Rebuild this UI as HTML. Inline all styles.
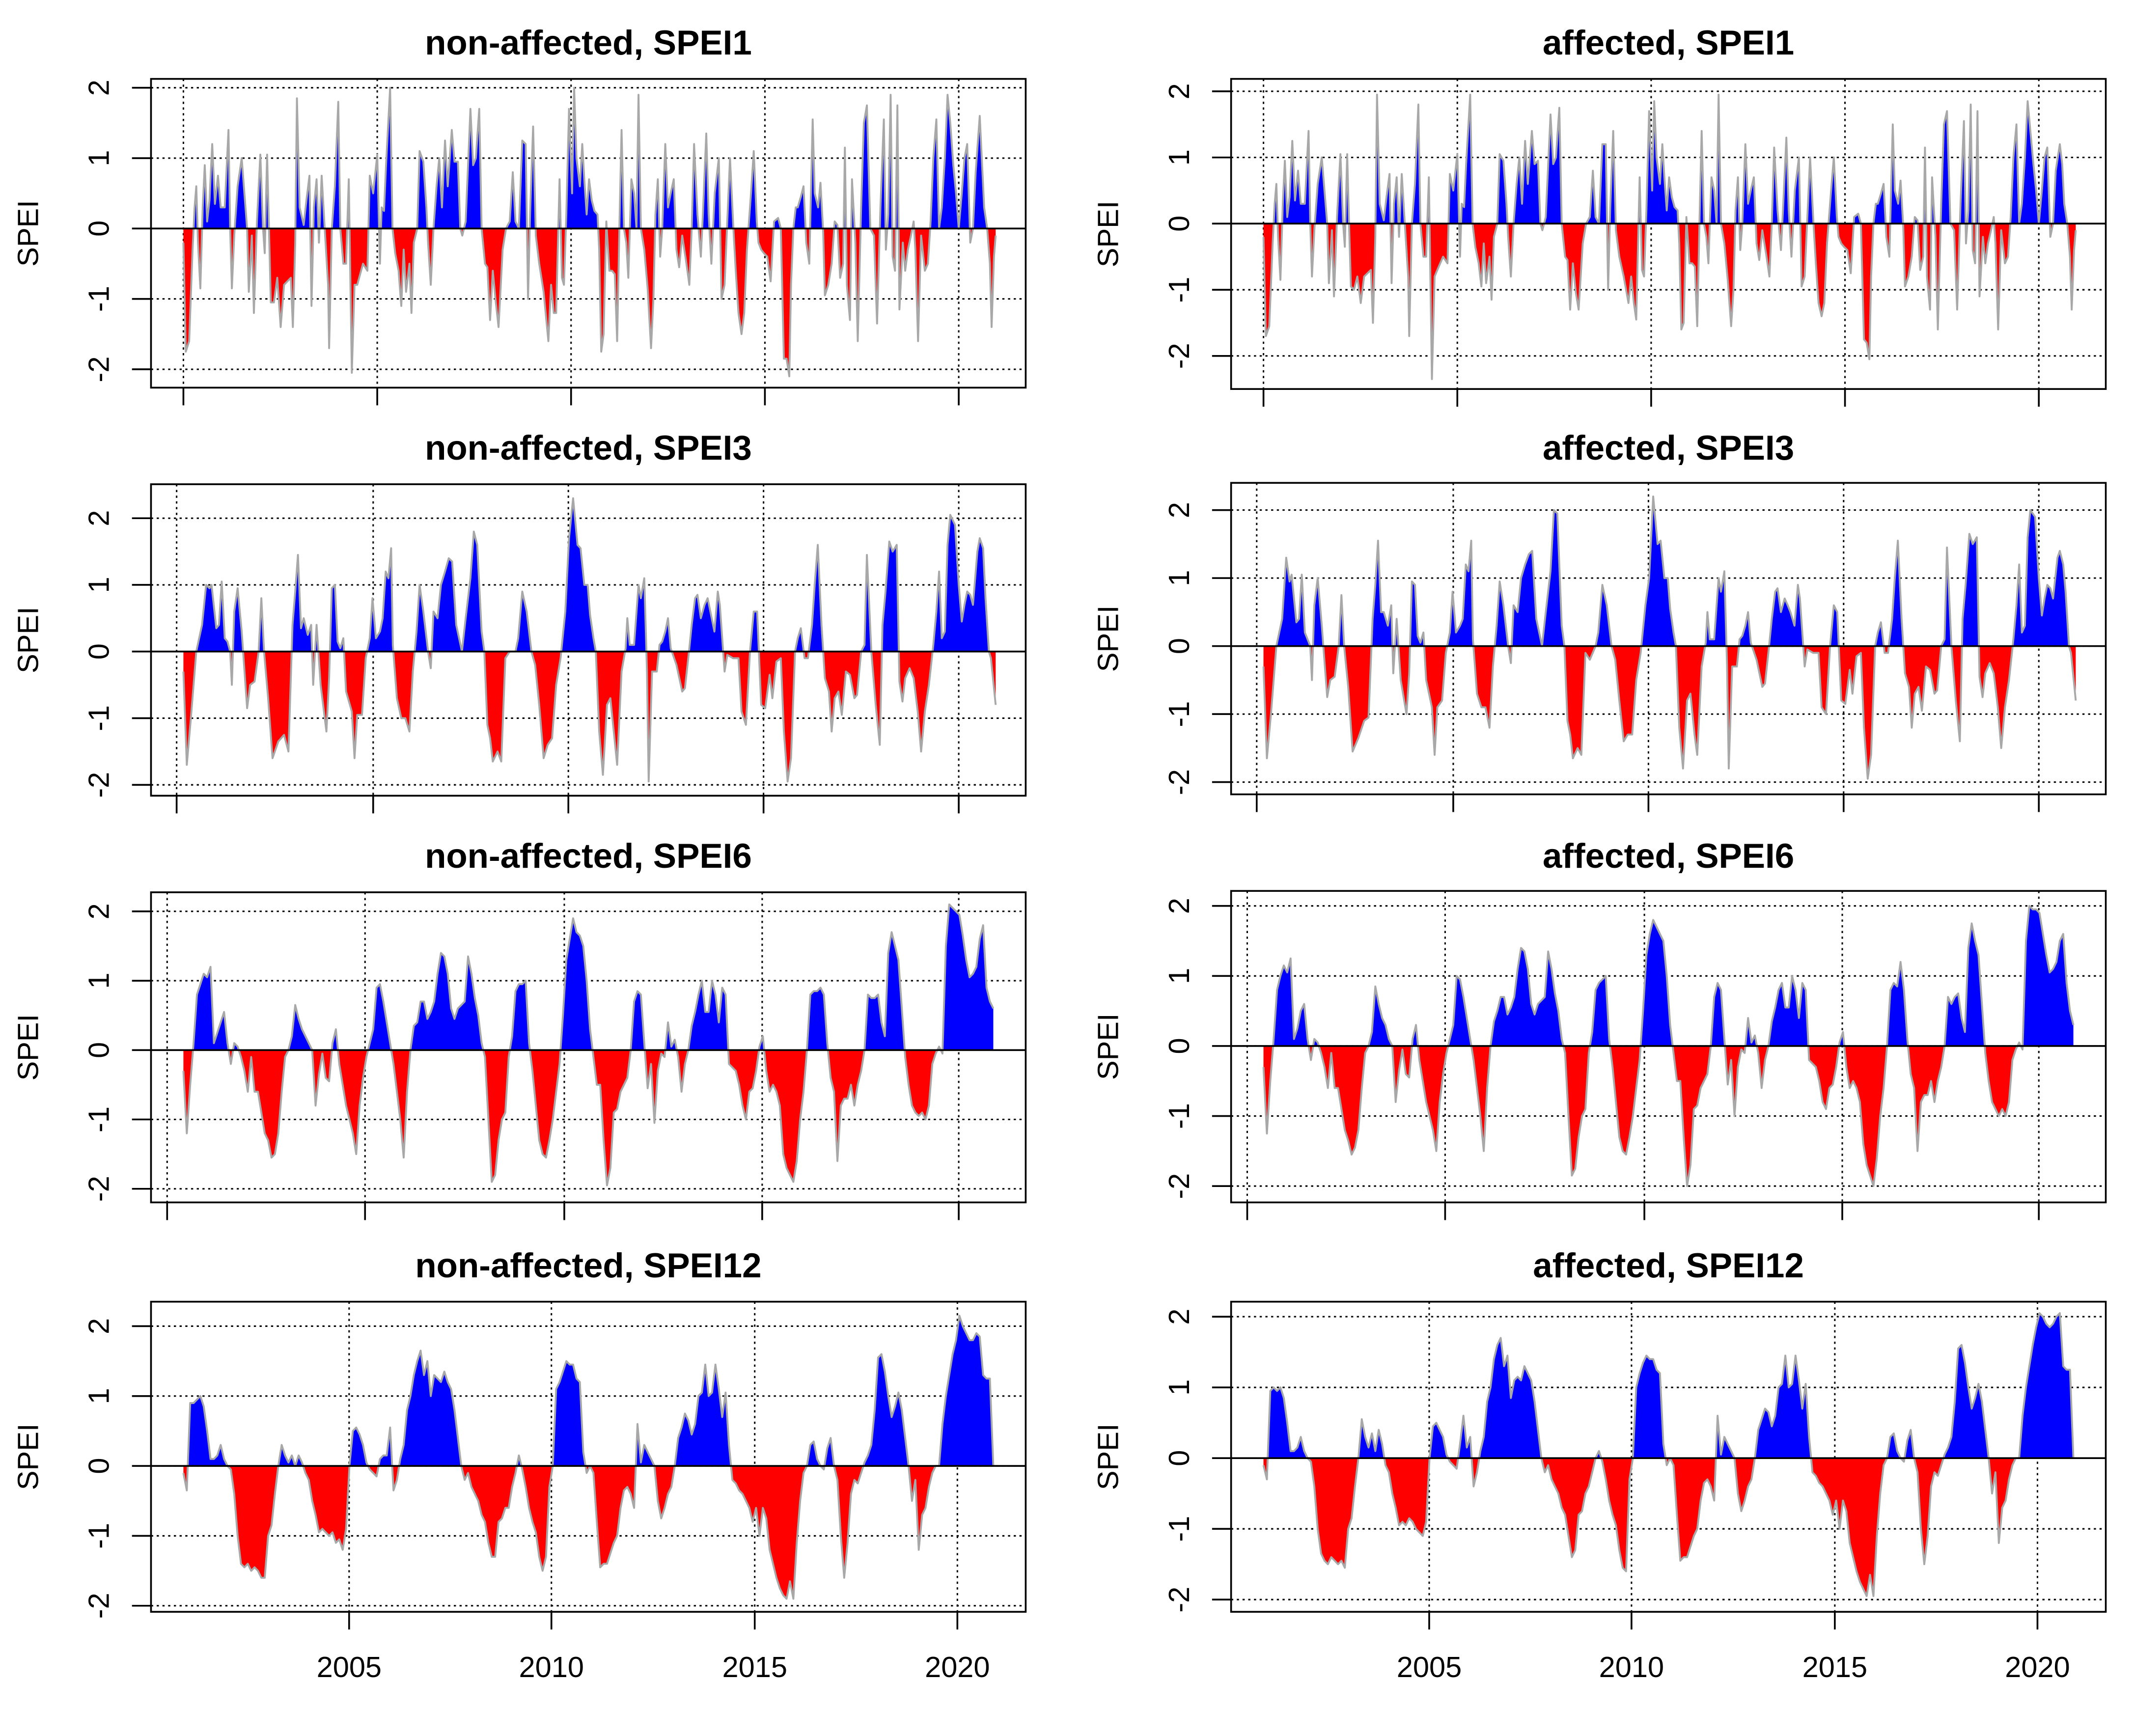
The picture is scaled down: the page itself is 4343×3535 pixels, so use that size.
<!DOCTYPE html>
<html>
<head>
<meta charset="utf-8">
<style>
html,body{margin:0;padding:0;background:#fff;}
svg{display:block;}
text{font-family:"Liberation Sans",Arial,sans-serif;fill:#000;}
</style>
</head>
<body>
<svg id="chart" xmlns="http://www.w3.org/2000/svg" width="4343" height="3535" viewBox="0 0 1568 1276.3">
<rect x="0" y="0" width="1568" height="1276.3" fill="#fff"/>
</svg>
<script>
// ---------- DATA ----------
const yTickValues = [-2, -1, 0, 1, 2];
const yTickLabels = ["-2", "-1", "0", "1", "2"];
const ticksRow1 = [0, 57.2, 114.4, 171.6, 228.8];
const ticksRow2 = [-2, 56, 113.6, 171.2, 228.8];
const ticksRow3 = [-4.8, 53.6, 112.4, 170.8, 228.8];
const ticksRow4 = [48.9, 108.6, 168.6, 228.4];
const yearLabels = ["2005", "2010", "2015", "2020"];

const spei1NonPts = [[0,-0.2],[0.7,-1.75],[1.7,-1.6],[2.7,-0.3],[3.3,0.3],[3.8,0.6],[4.3,-0.2],[5,-0.85],[5.7,0.3],[6.3,0.9],[7,0.1],[7.7,0.4],[8.5,1.2],[9.3,0.35],[10.2,0.75],[11,0.3],[12.2,0.3],[13.3,1.4],[13.8,0],[14.3,-0.85],[15,-0.1],[16,0.6],[17.2,1.0],[18,0.5],[18.8,0],[19.3,-0.9],[20.2,-0.1],[20.8,-1.2],[21.7,0.1],[22.7,1.05],[23.5,0],[24,-0.35],[24.7,1.05],[25.3,-0.1],[25.8,-1.05],[26.7,-1.05],[27.7,-0.7],[28.7,-1.4],[29.7,-0.8],[30.7,-0.75],[31.7,-0.7],[32.3,-1.4],[33,-0.2],[33.5,1.85],[34.3,0.3],[35.5,0.05],[36.3,0.4],[37.2,0.75],[37.8,-1.1],[38.5,0.3],[39.3,0.7],[40,-0.2],[40.8,0.75],[41.7,0],[42.7,-0.8],[43,-1.7],[43.8,0],[44.7,0.6],[45.7,1.8],[46.3,0],[47.2,-0.5],[48,-0.5],[48.8,0.7],[49.7,-2.05],[50.5,-0.8],[51.3,-0.8],[53,-0.5],[54.3,-0.6],[55,0.75],[56,0.5],[57.2,1.05],[58,-0.5],[58.5,0.3],[59.2,0.25],[59.8,0.9],[61,2.0],[61.7,0],[62.5,-0.35],[63.5,-0.6],[64.3,-1.1],[65,-0.3],[65.7,-0.9],[66.7,-0.5],[67.3,-1.2],[68,-0.2],[69,0],[69.7,1.1],[70.8,0.95],[71.7,0.3],[72.2,-0.2],[73,-0.8],[73.8,0],[74.7,0.6],[75.5,1.0],[76.3,0.3],[77.2,1.25],[78,0.6],[79.2,1.4],[80,0.95],[81,0.95],[81.7,0],[82.3,-0.1],[83.3,0.1],[84.7,1.7],[85.5,0.9],[86.3,1.0],[87.3,1.7],[88,0],[89,-0.5],[89.7,-0.55],[90.5,-1.3],[91.3,-0.6],[92.2,-1.05],[93,-1.4],[94.2,-0.3],[95.2,0],[96.3,0.1],[97.2,0.8],[98,0.1],[99,0],[100,1.25],[101,1.2],[101.7,-1.0],[102.3,0.2],[103.2,1.45],[104,-0.1],[105,-0.5],[106.3,-0.9],[107.7,-1.6],[108.5,-0.8],[109.3,-1.2],[110,-1.2],[111,0.7],[111.7,-0.7],[112.3,-0.8],[113,0.2],[113.8,1.7],[114.7,0.5],[115.3,2.0],[116,1.0],[117,0.6],[117.7,1.2],[118.3,0.7],[119,0.2],[119.7,0.7],[120.5,0.4],[121.3,0.25],[122.2,0.2],[122.7,-0.3],[123.3,-1.75],[124,-1.5],[124.8,0.1],[125.7,-0.6],[126.5,-0.6],[127.3,-0.65],[128,-1.6],[128.7,0.1],[129.3,1.4],[130,0],[130.7,-0.2],[131.3,-0.7],[132.2,0.7],[133,0.5],[133.7,0],[134.3,1.9],[135,0],[136,-0.3],[137,-0.85],[138,-1.7],[138.7,-1.0],[139.3,0.2],[140,0.7],[140.7,-0.4],[141.3,0],[142.2,1.2],[143,0.3],[143.8,0.5],[144.7,0.7],[145.5,-0.3],[146.3,-0.55],[147.2,-0.1],[148.3,-0.45],[149.3,-0.8],[150,0],[150.7,1.2],[151.7,0.2],[152.7,-0.4],[153.3,0.2],[154.3,1.35],[155,0.2],[155.8,-0.5],[156.8,0.5],[158,1.0],[158.8,-1.0],[159.7,-0.8],[160.5,0.1],[161.3,1.0],[162.3,0],[163,-0.6],[163.8,-1.2],[164.7,-1.5],[165.5,-1.2],[166.3,-0.3],[167.5,0.5],[168.3,1.1],[169.2,0.1],[169.7,-0.2],[170.5,-0.3],[171.3,-0.35],[172.3,-0.4],[173.3,-0.75],[174.3,0.1],[175.5,0.15],[176.3,0],[177.2,-1.85],[178,-1.85],[178.8,-2.1],[179.3,-0.8],[180,0],[180.7,0.3],[181.3,0.3],[182.2,0.45],[183,0.6],[183.8,-0.2],[184.7,-0.5],[185.7,1.55],[186.3,0.5],[187.3,0.3],[188,0.65],[188.8,-0.05],[189.3,-0.95],[190.3,-0.8],[191.3,-0.5],[192.2,0.1],[193,0.05],[193.8,-0.7],[194.7,-0.5],[195.2,1.15],[195.8,-0.8],[196.7,-1.3],[197.3,0.7],[198.3,-0.2],[199,-1.6],[200,0.3],[200.8,1.5],[201.7,1.75],[202.7,0],[203.8,-0.1],[204.7,-1.35],[205.7,0.3],[206.7,1.55],[207.3,-0.3],[208,0.2],[208.7,1.9],[209.3,-0.4],[210,-0.6],[210.7,1.75],[211.3,-1.15],[212.3,-0.2],[213,-0.6],[213.8,-0.3],[214.7,-0.1],[215.5,0.1],[216,-0.3],[216.8,-1.6],[217.7,-0.1],[218.8,-0.6],[219.7,-0.5],[220.5,0.1],[221.3,1.0],[222.2,1.55],[223,0],[223.8,0.3],[224.7,1.0],[225.5,1.9],[226.3,1.5],[227.2,0.9],[228,0.5],[228.8,0],[229.7,0.5],[230.5,1.0],[231.3,1.2],[232.2,-0.2],[233,0],[233.8,0.8],[235,1.6],[235.7,0.9],[236.3,0.3],[237.2,0],[238,-0.5],[238.5,-1.4],[239.2,-0.4],[239.7,-0.1]];

const spei1AffPts = [[0,-0.2],[0.7,-1.7],[1.7,-1.55],[2.7,-0.3],[3.3,0.3],[3.8,0.6],[4.3,-0.2],[5,-0.85],[5.7,0.3],[6.3,0.95],[7,0.1],[7.7,0.4],[8.5,1.25],[9.3,0.35],[10.2,0.8],[11,0.3],[12.2,0.3],[13.3,1.4],[13.8,0],[14.3,-0.8],[15,-0.1],[16,0.6],[17.2,1.0],[18,0.5],[18.8,0],[19.3,-0.9],[20.2,-0.1],[20.8,-1.1],[21.7,0.1],[22.7,1.05],[23.5,0],[24,-0.35],[24.7,1.05],[25.3,-0.1],[25.8,-0.95],[26.7,-1.0],[27.7,-0.8],[28.7,-1.2],[29.7,-0.8],[30.7,-0.75],[31.7,-0.7],[32.3,-1.5],[33,-0.2],[33.5,1.95],[34.3,0.3],[35.5,0.05],[36.3,0.4],[37.2,0.75],[37.8,-0.9],[38.5,0.3],[39.3,0.7],[40,-0.2],[40.8,0.75],[41.7,0],[42.7,-0.8],[43,-1.7],[43.8,0],[44.7,0.6],[45.7,1.8],[46.3,0],[47.2,-0.5],[48,-0.5],[48.8,0.7],[49.7,-2.35],[50.5,-0.8],[51.3,-0.7],[53,-0.5],[54.3,-0.6],[55,0.75],[56,0.5],[57.2,1.05],[58,-0.5],[58.5,0.3],[59.2,0.25],[59.8,0.9],[61,1.95],[61.7,0],[62.5,-0.35],[63.5,-0.6],[64.3,-0.95],[65,-0.3],[65.7,-0.9],[66.7,-0.5],[67.3,-1.15],[68,-0.2],[69,0],[69.7,1.05],[70.8,0.95],[71.7,0.3],[72.2,-0.2],[73,-0.8],[73.8,0],[74.7,0.6],[75.5,1.0],[76.3,0.3],[77.2,1.25],[78,0.6],[79.2,1.4],[80,0.9],[81,0.95],[81.7,0],[82.3,-0.1],[83.3,0.1],[84.7,1.65],[85.5,0.9],[86.3,1.0],[87.3,1.75],[88,0],[89,-0.5],[89.7,-0.55],[90.5,-1.3],[91.3,-0.6],[92.2,-1.05],[93,-1.3],[94.2,-0.3],[95.2,0],[96.3,0.1],[97.2,0.8],[98,0.1],[99,0],[100,1.2],[101,1.2],[101.7,-1.0],[102.3,0.2],[103.2,1.4],[104,-0.1],[105,-0.5],[106.3,-0.8],[107.7,-1.2],[108.5,-0.8],[109.3,-1.2],[110,-1.45],[111,0.7],[111.7,-0.7],[112.3,-0.8],[113,0.2],[113.8,1.7],[114.7,0.5],[115.3,1.85],[116,1.0],[117,0.6],[117.7,1.2],[118.3,0.7],[119,0.2],[119.7,0.7],[120.5,0.4],[121.3,0.25],[122.2,0.2],[122.7,-0.3],[123.3,-1.6],[124,-1.5],[124.8,0.1],[125.7,-0.6],[126.5,-0.6],[127.3,-0.65],[128,-1.55],[128.7,0.1],[129.3,1.4],[130,0],[130.7,-0.2],[131.3,-0.6],[132.2,0.7],[133,0.5],[133.7,0],[134.3,1.95],[135,0],[136,-0.3],[137,-0.85],[138,-1.55],[138.7,-1.0],[139.3,0.2],[140,0.7],[140.7,-0.4],[141.3,0],[142.2,1.2],[143,0.3],[143.8,0.5],[144.7,0.7],[145.5,-0.3],[146.3,-0.55],[147.2,-0.1],[148.3,-0.45],[149.3,-0.8],[150,0],[150.7,1.15],[151.7,0.2],[152.7,-0.4],[153.3,0.2],[154.3,1.3],[155,0.2],[155.8,-0.5],[156.8,0.5],[158,1.0],[158.8,-0.95],[159.7,-0.8],[160.5,0.1],[161.3,1.0],[162.3,0],[163,-0.6],[163.8,-1.2],[164.7,-1.4],[165.5,-1.2],[166.3,-0.3],[167.5,0.5],[168.3,1.0],[169.2,0.1],[169.7,-0.2],[170.5,-0.3],[171.3,-0.35],[172.3,-0.4],[173.3,-0.75],[174.3,0.1],[175.5,0.15],[176.3,0],[177.2,-1.75],[178,-1.8],[178.8,-2.05],[179.3,-0.8],[180,0],[180.7,0.3],[181.3,0.3],[182.2,0.45],[183,0.6],[183.8,-0.2],[184.7,-0.5],[185.7,1.5],[186.3,0.5],[187.3,0.3],[188,0.65],[188.8,-0.05],[189.3,-0.95],[190.3,-0.8],[191.3,-0.5],[192.2,0.1],[193,0.05],[193.8,-0.7],[194.7,-0.5],[195.2,1.15],[195.8,-0.8],[196.7,-1.3],[197.3,0.7],[198.3,-0.2],[199,-1.6],[200,0.3],[200.8,1.5],[201.7,1.7],[202.7,0],[203.8,-0.1],[204.7,-1.3],[205.7,0.3],[206.7,1.55],[207.3,-0.3],[208,0.2],[208.7,1.8],[209.3,-0.4],[210,-0.6],[210.7,1.7],[211.3,-1.1],[212.3,-0.2],[213,-0.6],[213.8,-0.3],[214.7,-0.1],[215.5,0.1],[216,-0.3],[216.8,-1.6],[217.7,-0.1],[218.8,-0.6],[219.7,-0.5],[220.5,0.1],[221.3,1.0],[222.2,1.5],[223,0],[223.8,0.3],[224.7,1.0],[225.5,1.85],[226.3,1.4],[227.2,0.9],[228,0.5],[228.8,0],[229.7,0.5],[230.5,1.0],[231.3,1.15],[232.2,-0.2],[233,0],[233.8,0.8],[235,1.2],[235.7,0.9],[236.3,0.3],[237.2,0],[238,-0.5],[238.5,-1.3],[239.2,-0.4],[239.7,-0.1]];

const spei3NonPts = [[0,-0.3],[1,-1.7],[2.2,-1.0],[3.8,0],[5.5,0.4],[6.7,1.0],[7.7,0.95],[8.3,1.0],[9.7,0.35],[10.5,0.4],[11.3,1.05],[12.2,0.2],[13,0.15],[13.8,0],[14.3,-0.5],[15,0.6],[16,0.95],[17.2,0.3],[18.8,-0.85],[19.7,-0.5],[21,-0.45],[22.2,0],[23,0.8],[23.8,0],[25,-0.7],[26.3,-1.6],[28,-1.35],[29.7,-1.25],[31,-1.5],[32.2,0.4],[33,0.9],[33.8,1.45],[34.7,0.35],[35.5,0.5],[36.7,0.25],[37.7,0.4],[38.3,-0.5],[39.3,0.4],[40.5,-0.5],[42.2,-1.2],[43,-0.4],[43.8,0.95],[44.7,1.0],[45.5,0.15],[46.3,0.05],[47.2,0.2],[48,-0.6],[49.7,-0.9],[50.5,-1.6],[51.3,-0.95],[52.7,-0.95],[53.8,-0.1],[55,0.2],[55.8,0.8],[56.8,0.2],[58,0.3],[58.8,0.5],[59.7,1.2],[60.5,1.1],[61.3,1.55],[61.8,0.1],[63,-0.7],[64.3,-1.0],[65.5,-1.0],[66.7,-1.2],[67.7,-0.3],[68.8,0.3],[69.7,1.0],[70.8,0.6],[72.2,0],[73,-0.25],[73.8,0.6],[75,0.5],[76,1.0],[77.2,1.2],[78.3,1.4],[79.3,1.35],[80.5,0.4],[82.2,0],[83.3,0.5],[84.7,1.1],[85.7,1.8],[86.7,1.6],[88,0.3],[88.8,0],[89.7,-1.1],[90.5,-1.3],[91.3,-1.65],[92.7,-1.5],[93.8,-1.65],[95,-0.1],[96.3,0],[98,0],[98.8,0.2],[100,0.9],[101.3,0.6],[102.7,0],[103.8,-0.2],[105,-0.8],[106.3,-1.6],[107.5,-1.4],[108.8,-1.3],[110,-0.5],[111.3,-0.1],[112.7,0.6],[113.8,1.7],[115,2.3],[116.3,1.6],[117.2,1.55],[118.3,1.0],[119.3,1.0],[120,0.55],[121,0.2],[121.7,0],[122.7,-1.2],[123.8,-1.85],[125,-0.8],[126,-0.7],[127.2,-1.3],[128,-1.7],[129.3,-0.3],[130.5,0.05],[131,0.5],[131.7,0.1],[133,0.1],[134.3,1.0],[135,0.8],[136,1.1],[136.8,-0.3],[137.3,-1.95],[138.3,-0.3],[139.7,-0.3],[140.5,0.1],[141.3,0.15],[142.2,0.3],[143,0.5],[143.8,0.05],[145.5,-0.2],[147.2,-0.6],[148,-0.55],[149.2,0],[150,0.4],[151,0.8],[151.7,0.85],[152.7,0.5],[153.8,0.7],[154.7,0.8],[155.5,0.6],[156.7,0.3],[157.7,0.9],[158.3,0.7],[159.7,-0.3],[160.5,-0.05],[162.2,-0.1],[163.8,-0.1],[164.7,-0.9],[166,-1.1],[167.2,0],[168.3,0.6],[169.3,0.6],[170.5,-0.8],[171.7,-0.85],[173,-0.35],[173.8,-0.7],[175,-0.15],[176.3,-0.1],[177.2,-1.2],[178.3,-1.95],[179.3,-1.6],[180.5,0],[181.3,0.2],[182.2,0.35],[183.3,-0.1],[184.3,-0.1],[185.5,0.4],[186.3,1.0],[187.2,1.6],[188.3,0.4],[189.3,-0.4],[190.5,-0.6],[191.3,-1.2],[192.2,-0.7],[193.3,-0.6],[194.3,-0.95],[195.5,-0.3],[196.7,-0.35],[198,-0.7],[198.8,-0.65],[200,0],[201,0.1],[201.7,1.45],[203,0],[204.3,-0.8],[205.5,-1.4],[206.3,0.4],[207.2,0.9],[208.3,1.65],[209.3,1.5],[210.5,1.6],[211.3,-0.45],[212.2,-0.75],[213,-0.4],[214.3,-0.25],[215.5,-0.4],[216.7,-0.9],[217.7,-1.5],[218.8,-0.9],[220,-0.5],[221.3,0.1],[222.2,0.6],[223,1.2],[223.8,0.2],[224.7,0.3],[225.5,1.6],[226.3,2.05],[227.7,1.9],[228.8,1.0],[229.7,0.45],[230.5,0.7],[231.3,0.9],[232.2,0.85],[233,0.7],[234.3,1.5],[235,1.7],[236,1.55],[236.7,0.8],[237.7,0],[238.3,-0.1],[239.7,-0.8]];

const spei3AffPts = [[0,-0.3],[1,-1.65],[2.2,-1.0],[3.8,0],[5.5,0.4],[6.7,1.3],[7.7,0.95],[8.3,1.05],[9.7,0.35],[10.5,0.4],[11.3,1.05],[12.2,0.2],[13,0.1],[13.8,0],[14.3,-0.5],[15,0.6],[16,1.0],[17.2,0.3],[18.8,-0.75],[19.7,-0.5],[21,-0.45],[22.2,0],[23,0.75],[23.8,0],[25,-0.6],[26.3,-1.55],[28,-1.35],[29.7,-1.1],[31,-1.05],[32.2,0.4],[33,0.9],[33.8,1.55],[34.7,0.5],[35.5,0.5],[36.7,0.3],[37.7,0.6],[38.3,-0.4],[39.3,0.4],[40.5,-0.5],[42.2,-1.0],[43,-0.4],[43.8,0.95],[44.7,0.9],[45.5,0.15],[46.3,0.05],[47.2,0.2],[48,-0.5],[49.7,-0.9],[50.5,-1.6],[51.3,-0.9],[52.7,-0.8],[53.8,-0.1],[55,0.2],[55.8,0.8],[56.8,0.2],[58,0.3],[58.8,0.4],[59.7,1.2],[60.5,1.1],[61.3,1.55],[61.8,0.1],[63,-0.7],[64.3,-0.9],[65.5,-0.9],[66.7,-1.2],[67.7,-0.3],[68.8,0.3],[69.7,0.95],[70.8,0.6],[72.2,0],[73,-0.25],[73.8,0.6],[75,0.5],[76,1.0],[77.2,1.2],[78.3,1.35],[79.3,1.4],[80.5,0.4],[82.2,0],[83.3,0.5],[84.7,1.1],[85.7,2.0],[86.7,1.95],[88,0.3],[88.8,0],[89.7,-1.1],[90.5,-1.3],[91.3,-1.65],[92.7,-1.5],[93.8,-1.6],[95,-0.1],[96.3,-0.2],[98,0],[98.8,0.2],[100,0.9],[101.3,0.6],[102.7,0],[103.8,-0.2],[105,-0.8],[106.3,-1.4],[107.5,-1.3],[108.8,-1.3],[110,-0.5],[111.3,-0.1],[112.7,0.6],[113.8,1.0],[115,2.2],[116.3,1.5],[117.2,1.55],[118.3,1.0],[119.3,1.0],[120,0.55],[121,0.2],[121.7,0],[122.7,-1.2],[123.8,-1.8],[125,-0.8],[126,-0.7],[127.2,-1.3],[128,-1.6],[129.3,-0.3],[130.5,0.05],[131,0.5],[131.7,0.1],[133,0.1],[134.3,1.0],[135,0.8],[136,1.1],[136.8,-0.3],[137.3,-1.8],[138.3,-0.3],[139.7,-0.3],[140.5,0.1],[141.3,0.15],[142.2,0.3],[143,0.5],[143.8,0.05],[145.5,-0.2],[147.2,-0.6],[148,-0.55],[149.2,0],[150,0.4],[151,0.8],[151.7,0.85],[152.7,0.5],[153.8,0.7],[154.7,0.6],[155.5,0.5],[156.7,0.3],[157.7,0.9],[158.3,0.7],[159.7,-0.3],[160.5,-0.05],[162.2,-0.1],[163.8,-0.1],[164.7,-0.9],[166,-1.0],[167.2,0],[168.3,0.6],[169.3,0.5],[170.5,-0.8],[171.7,-0.85],[173,-0.35],[173.8,-0.7],[175,-0.15],[176.3,-0.1],[177.2,-1.2],[178.3,-1.95],[179.3,-1.6],[180.5,0],[181.3,0.2],[182.2,0.35],[183.3,-0.1],[184.3,-0.1],[185.5,0.4],[186.3,1.0],[187.2,1.55],[188.3,0.4],[189.3,-0.4],[190.5,-0.6],[191.3,-1.2],[192.2,-0.7],[193.3,-0.6],[194.3,-0.95],[195.5,-0.3],[196.7,-0.35],[198,-0.7],[198.8,-0.65],[200,0],[201,0.1],[201.7,1.45],[203,0],[204.3,-0.8],[205.5,-1.4],[206.3,0.4],[207.2,0.9],[208.3,1.65],[209.3,1.5],[210.5,1.6],[211.3,-0.45],[212.2,-0.75],[213,-0.4],[214.3,-0.25],[215.5,-0.4],[216.7,-0.9],[217.7,-1.5],[218.8,-0.9],[220,-0.5],[221.3,0.1],[222.2,0.6],[223,1.2],[223.8,0.2],[224.7,0.3],[225.5,1.6],[226.3,2.0],[227.7,1.9],[228.8,1.0],[229.7,0.45],[230.5,0.7],[231.3,0.9],[232.2,0.85],[233,0.7],[234.3,1.3],[235,1.4],[236,1.2],[236.7,0.8],[237.7,0],[238.3,-0.1],[239.7,-0.8]];

const spei6Non = [-0.3,-1.2,-0.5,0.1,0.8,0.95,1.1,1.05,1.2,0.1,0.25,0.4,
0.55,0.1,-0.2,0.1,0.05,-0.1,-0.3,-0.6,-0.1,-0.6,-0.6,-0.9,
-1.2,-1.3,-1.55,-1.5,-1.2,-0.6,-0.1,0,0.2,0.65,0.45,0.3,
0.2,0.1,0,-0.8,-0.35,-0.05,-0.4,-0.45,0.1,0.3,-0.2,-0.5,
-0.8,-1.0,-1.2,-1.5,-0.8,-0.4,-0.1,0.1,0.3,0.9,0.95,0.7,
0.4,0.1,-0.2,-0.6,-1.0,-1.55,-0.6,0,0.35,0.4,0.7,0.7,
0.45,0.55,0.7,1.1,1.4,1.35,1.1,0.6,0.45,0.6,0.65,0.7,
1.35,1.1,0.75,0.5,0.1,-0.1,-1.0,-1.9,-1.8,-1.3,-1.0,-0.9,
-0.1,0.2,0.85,0.95,0.95,1.0,0.1,-0.3,-0.8,-1.3,-1.5,-1.55,
-1.3,-1.0,-0.6,-0.2,0.5,1.3,1.6,1.9,1.7,1.65,1.5,1.0,
0.3,-0.1,-0.5,-0.5,-1.3,-1.95,-1.7,-0.9,-0.85,-0.6,-0.5,-0.4,
0,0.7,0.85,0.8,0.1,-0.55,-0.2,-1.05,-0.3,-0.05,-0.1,0.4,
0.05,0.15,-0.1,-0.6,-0.2,0,0.35,0.55,0.8,1.0,0.55,0.55,
1.0,0.8,0.4,0.9,0.8,-0.2,-0.25,-0.3,-0.5,-0.8,-1.0,-0.6,
-0.55,-0.3,0.05,0.2,-0.3,-0.6,-0.5,-0.6,-0.8,-1.5,-1.7,-1.8,
-1.9,-1.6,-1.0,-0.6,0,0.8,0.85,0.85,0.9,0.8,0.1,-0.4,
-0.6,-1.6,-0.8,-0.7,-0.7,-0.5,-0.8,-0.5,-0.3,0,0.8,0.75,
0.75,0.8,0.4,0.2,1.4,1.7,1.5,1.3,0.6,-0.1,-0.5,-0.8,
-0.9,-0.95,-0.9,-1.0,-0.8,-0.2,-0.05,0.05,-0.05,1.5,2.1,2.05,
2.0,1.95,1.65,1.3,1.05,1.1,1.2,1.6,1.8,0.9,0.7,0.6];

const spei6Aff = [-0.3,-1.25,-0.5,0.1,0.8,1.0,1.15,1.05,1.25,0.1,0.25,0.5,
0.6,0.1,-0.2,0.1,0.05,-0.1,-0.3,-0.6,-0.1,-0.6,-0.6,-0.9,
-1.2,-1.35,-1.55,-1.45,-1.2,-0.6,-0.1,0,0.2,0.85,0.6,0.4,
0.3,0.1,0,-0.8,-0.35,-0.05,-0.4,-0.45,0.1,0.3,-0.2,-0.5,
-0.8,-1.0,-1.2,-1.5,-0.8,-0.4,-0.1,0.1,0.3,1.0,0.95,0.7,
0.4,0.1,-0.2,-0.6,-1.0,-1.5,-0.6,0,0.35,0.5,0.7,0.7,
0.45,0.55,0.7,1.1,1.4,1.35,1.1,0.6,0.45,0.6,0.65,0.7,
1.35,1.1,0.75,0.5,0.1,-0.1,-1.0,-1.85,-1.75,-1.3,-1.0,-0.9,
-0.1,0.2,0.8,0.9,0.95,1.0,0.1,-0.3,-0.8,-1.3,-1.5,-1.55,
-1.3,-1.0,-0.6,-0.2,0.5,1.3,1.6,1.8,1.7,1.6,1.5,1.0,
0.3,-0.1,-0.5,-0.5,-1.3,-2.0,-1.7,-0.9,-0.85,-0.6,-0.5,-0.4,
0,0.7,0.9,0.8,0.1,-0.55,-0.2,-1.0,-0.3,-0.05,-0.1,0.4,
0.05,0.15,-0.1,-0.6,-0.2,0,0.35,0.55,0.8,0.9,0.55,0.55,
1.0,0.8,0.4,0.9,0.8,-0.2,-0.25,-0.3,-0.5,-0.8,-0.9,-0.6,
-0.55,-0.3,0.05,0.2,-0.3,-0.6,-0.5,-0.6,-0.8,-1.4,-1.7,-1.85,
-2.0,-1.6,-1.0,-0.6,0,0.8,0.9,0.85,1.2,0.8,0.1,-0.4,
-0.6,-1.5,-0.8,-0.7,-0.7,-0.5,-0.8,-0.5,-0.3,0,0.7,0.6,
0.7,0.75,0.4,0.2,1.4,1.75,1.5,1.3,0.6,-0.1,-0.5,-0.8,
-0.9,-1.0,-0.9,-1.0,-0.8,-0.2,-0.05,0.05,-0.05,1.5,2.0,1.95,
1.95,1.9,1.6,1.3,1.05,1.1,1.2,1.5,1.6,0.9,0.5,0.3];

const spei12Non = [-0.1,-0.35,0.9,0.9,0.95,1.0,0.85,0.5,0.1,0.1,0.15,0.3,
0.1,0,-0.05,-0.4,-1.0,-1.4,-1.45,-1.4,-1.5,-1.45,-1.5,-1.6,
-1.6,-1.0,-0.85,-0.4,0,0.3,0.15,0.05,0.15,0,0.15,0.05,
-0.1,-0.2,-0.5,-0.7,-0.95,-0.9,-0.95,-1.0,-0.95,-1.1,-1.05,-1.2,
-0.9,0,0.5,0.55,0.45,0.3,0.05,-0.05,-0.1,-0.15,0.1,0.15,
0.15,0.55,-0.35,-0.2,0.1,0.3,0.8,1.0,1.3,1.5,1.65,1.3,
1.5,1.0,1.3,1.25,1.2,1.35,1.2,1.1,0.8,0.4,0,-0.2,
-0.1,-0.3,-0.4,-0.5,-0.7,-0.8,-1.1,-1.3,-1.3,-0.8,-0.75,-0.6,
-0.6,-0.3,-0.1,0.15,-0.05,-0.3,-0.6,-0.8,-0.95,-1.3,-1.5,-1.3,
-0.3,0,1.1,1.2,1.35,1.5,1.45,1.45,1.25,1.2,0.2,-0.1,
0,-0.1,-0.8,-1.45,-1.4,-1.4,-1.25,-1.1,-1.0,-0.6,-0.35,-0.3,
-0.4,-0.6,0.6,0.05,0.3,0.2,0.1,0,-0.5,-0.75,-0.6,-0.4,
-0.3,0,0.4,0.55,0.75,0.65,0.45,0.6,1.0,1.05,1.45,1.0,
1.05,1.45,1.1,0.7,1.05,0.3,-0.2,-0.25,-0.35,-0.4,-0.5,-0.6,
-0.8,-0.6,-1.0,-0.6,-0.75,-1.2,-1.4,-1.6,-1.75,-1.85,-1.9,-1.65,
-1.9,-1.1,-0.5,-0.1,0,0.3,0.35,0.1,0,-0.05,0.25,0.4,
0,-0.2,-1.0,-1.6,-1.1,-0.4,-0.2,-0.25,-0.1,0.05,0.15,0.3,
0.8,1.55,1.6,1.35,1.0,0.7,0.85,1.05,0.8,0.4,0,-0.5,
-0.2,-1.2,-0.7,-0.6,-0.3,-0.1,0,0,0.6,1.0,1.3,1.6,
1.8,2.15,2.0,1.9,1.8,1.8,1.9,1.85,1.3,1.25,1.25,0];

const spei12Aff = [-0.1,-0.3,0.95,1.0,0.95,1.0,0.85,0.5,0.1,0.1,0.15,0.3,
0.1,0,-0.05,-0.4,-1.0,-1.35,-1.45,-1.5,-1.4,-1.45,-1.5,-1.45,
-1.55,-1.0,-0.85,-0.4,0,0.55,0.3,0.15,0.35,0.1,0.4,0.2,
-0.1,-0.2,-0.5,-0.7,-0.95,-0.9,-0.95,-0.85,-0.9,-1.0,-1.05,-1.1,
-0.9,0,0.45,0.5,0.4,0.3,0.05,-0.05,-0.1,-0.15,0.2,0.6,
0.15,0.3,-0.4,-0.2,0.1,0.3,0.8,1.0,1.4,1.6,1.7,1.3,
1.45,0.85,1.1,1.15,1.1,1.3,1.2,1.1,0.8,0.4,0,-0.2,
-0.1,-0.3,-0.4,-0.5,-0.7,-0.8,-1.1,-1.4,-1.3,-0.8,-0.75,-0.5,
-0.4,-0.2,0,0.1,-0.05,-0.3,-0.6,-0.8,-0.95,-1.3,-1.55,-1.6,
-0.3,0,1.0,1.2,1.35,1.45,1.4,1.4,1.25,1.2,0.2,-0.1,
0,-0.1,-0.8,-1.45,-1.4,-1.4,-1.25,-1.1,-1.0,-0.6,-0.35,-0.3,
-0.4,-0.6,0.6,0.05,0.3,0.2,0.1,0,-0.5,-0.75,-0.6,-0.4,
-0.3,0,0.4,0.55,0.7,0.65,0.45,0.6,1.0,1.05,1.45,1.0,
1.05,1.45,1.1,0.7,1.05,0.3,-0.2,-0.25,-0.35,-0.4,-0.5,-0.6,
-0.8,-0.6,-1.0,-0.6,-0.75,-1.2,-1.4,-1.6,-1.75,-1.85,-1.95,-1.65,
-1.95,-1.1,-0.5,-0.1,0,0.3,0.35,0.1,0,-0.05,0.25,0.4,
0,-0.2,-1.0,-1.5,-1.1,-0.4,-0.2,-0.25,-0.1,0.05,0.15,0.3,
0.8,1.55,1.6,1.35,1.0,0.7,0.85,1.05,0.8,0.4,0,-0.5,
-0.2,-1.2,-0.7,-0.6,-0.3,-0.1,0,0,0.6,1.0,1.3,1.6,
1.85,2.05,2.0,1.9,1.85,1.9,2.0,2.05,1.3,1.25,1.25,0];

// ---------- RENDER ----------
const NS = "http://www.w3.org/2000/svg";
const svg = document.getElementById("chart");
const XMIN = -9.56, XMAX = 248.56;
const LEFT = {bx0: 111, bx1: 754, ylabX: 28, tickLabX: 80};
const RIGHT = {bx0: 905, bx1: 1548, ylabX: 822, tickLabX: 874};

function monthly(arr) { return arr.map((v, i) => [i, v]); }

const panels = [
  {title: "non-affected, SPEI1", key: "non-affected-spei1", side: LEFT, by0: 58, by1: 285, yTop: 2.126, yBot: -2.261, ticks: ticksRow1, labels: null, pts: spei1NonPts, titleY: 40},
  {title: "affected, SPEI1", key: "affected-spei1", side: RIGHT, by0: 58, by1: 286, yTop: 2.1875, yBot: -2.5, ticks: ticksRow1, labels: null, pts: spei1AffPts, titleY: 40},
  {title: "non-affected, SPEI3", key: "non-affected-spei3", side: LEFT, by0: 356, by1: 585, yTop: 2.51, yBot: -2.163, ticks: ticksRow2, labels: null, pts: spei3NonPts, titleY: 338},
  {title: "affected, SPEI3", key: "affected-spei3", side: RIGHT, by0: 355, by1: 584, yTop: 2.4, yBot: -2.18, ticks: ticksRow2, labels: null, pts: spei3AffPts, titleY: 338},
  {title: "non-affected, SPEI6", key: "non-affected-spei6", side: LEFT, by0: 656, by1: 884, yTop: 2.275, yBot: -2.196, ticks: ticksRow3, labels: null, pts: monthly(spei6Non), titleY: 638},
  {title: "affected, SPEI6", key: "affected-spei6", side: RIGHT, by0: 655, by1: 884, yTop: 2.214, yBot: -2.233, ticks: ticksRow3, labels: null, pts: monthly(spei6Aff), titleY: 638},
  {title: "non-affected, SPEI12", key: "non-affected-spei12", side: LEFT, by0: 957, by1: 1185, yTop: 2.35, yBot: -2.087, ticks: ticksRow4, labels: yearLabels, pts: monthly(spei12Non), titleY: 939},
  {title: "affected, SPEI12", key: "affected-spei12", side: RIGHT, by0: 957, by1: 1185, yTop: 2.212, yBot: -2.173, ticks: ticksRow4, labels: yearLabels, pts: monthly(spei12Aff), titleY: 939}
];

function mk(tag, attrs, parent) {
  const e = document.createElementNS(NS, tag);
  for (const k in attrs) e.setAttribute(k, attrs[k]);
  parent.appendChild(e);
  return e;
}

function areaPath(pts, sx, sy, sign) {
  const out = [];
  for (let i = 0; i < pts.length; i++) {
    const t = pts[i][0], v = pts[i][1];
    if (i > 0) {
      const t0 = pts[i-1][0], v0 = pts[i-1][1];
      if (v0 * v < 0) {
        const tc = t0 + (t - t0) * (v0 / (v0 - v));
        out.push([tc, 0]);
      }
    }
    out.push([t, sign > 0 ? Math.max(v, 0) : Math.min(v, 0)]);
  }
  let d = "M" + sx(pts[0][0]).toFixed(2) + "," + sy(0).toFixed(2);
  for (const p of out) d += "L" + sx(p[0]).toFixed(2) + "," + sy(p[1]).toFixed(2);
  d += "L" + sx(pts[pts.length-1][0]).toFixed(2) + "," + sy(0).toFixed(2) + "Z";
  return d;
}

panels.forEach(p => {
  const s = p.side;
  const sx = m => s.bx0 + (m - XMIN) / (XMAX - XMIN) * (s.bx1 - s.bx0);
  const sy = v => p.by0 + (p.yTop - v) / (p.yTop - p.yBot) * (p.by1 - p.by0);
  const g = mk("g", {}, svg);
  
  

  // grid
  yTickValues.forEach((v, i) => {
    const ln = mk("line", {x1: s.bx0, x2: s.bx1, y1: sy(v), y2: sy(v), stroke: "#000", "stroke-width": 1.1, "stroke-dasharray": "1.6 2.6"}, g);
    
    
  });
  p.ticks.forEach(m => {
    const x = sx(m);
    if (x < s.bx0 || x > s.bx1) return;
    const ln = mk("line", {x1: x, x2: x, y1: p.by0, y2: p.by1, stroke: "#000", "stroke-width": 1.1, "stroke-dasharray": "1.6 2.6"}, g);
    
    
  });

  // areas
  const pos = mk("path", {d: areaPath(p.pts, sx, sy, 1), fill: "#0000ff", stroke: "none"}, g);
  
  
  const neg = mk("path", {d: areaPath(p.pts, sx, sy, -1), fill: "#ff0000", stroke: "none"}, g);
  
  

  // series line
  const ld = p.pts.map((q, i) => (i ? "L" : "M") + sx(q[0]).toFixed(2) + "," + sy(q[1]).toFixed(2)).join("");
  const line = mk("path", {d: ld, fill: "none", stroke: "#a8a8a8", "stroke-width": 1.4, "stroke-linejoin": "round"}, g);
  
  

  // zero line
  const z = mk("line", {x1: s.bx0, x2: s.bx1, y1: sy(0), y2: sy(0), stroke: "#000", "stroke-width": 1.3}, g);
  
  

  // box
  const box = mk("rect", {x: s.bx0, y: p.by0, width: s.bx1 - s.bx0, height: p.by1 - p.by0, fill: "none", stroke: "#000", "stroke-width": 1.3}, g);
  
  

  // y ticks + labels
  yTickValues.forEach((v, i) => {
    const y = sy(v);
    const tk = mk("line", {x1: s.bx0 - 14, x2: s.bx0, y1: y, y2: y, stroke: "#000", "stroke-width": 1.3}, g);
    
    
    const tx = mk("text", {x: s.tickLabX, y: y, "font-size": 21.5, "text-anchor": "middle", transform: "rotate(-90 " + s.tickLabX + " " + y + ")"}, g);
    tx.textContent = yTickLabels[i];
    
    
  });

  // x ticks + labels
  p.ticks.forEach((m, i) => {
    const x = sx(m);
    if (x < s.bx0 - 2 || x > s.bx1) return;
    const tk = mk("line", {x1: x, x2: x, y1: p.by1, y2: p.by1 + 13, stroke: "#000", "stroke-width": 1.3}, g);
    
    
    if (p.labels) {
      const tx = mk("text", {x: x, y: p.by1 + 48, "font-size": 21.5, "text-anchor": "middle"}, g);
      tx.textContent = p.labels[i];
      
      
    }
  });

  // title
  const tt = mk("text", {x: (s.bx0 + s.bx1) / 2, y: p.titleY, "font-size": 25.6, "font-weight": "bold", "text-anchor": "middle"}, g);
  tt.textContent = p.title;
  
  

  // y axis title
  const yc = (p.by0 + p.by1) / 2;
  const yl = mk("text", {x: s.ylabX, y: yc, "font-size": 21.5, "text-anchor": "middle", transform: "rotate(-90 " + s.ylabX + " " + yc + ")"}, g);
  yl.textContent = "SPEI";
  
  
});
</script>
</body>
</html>
